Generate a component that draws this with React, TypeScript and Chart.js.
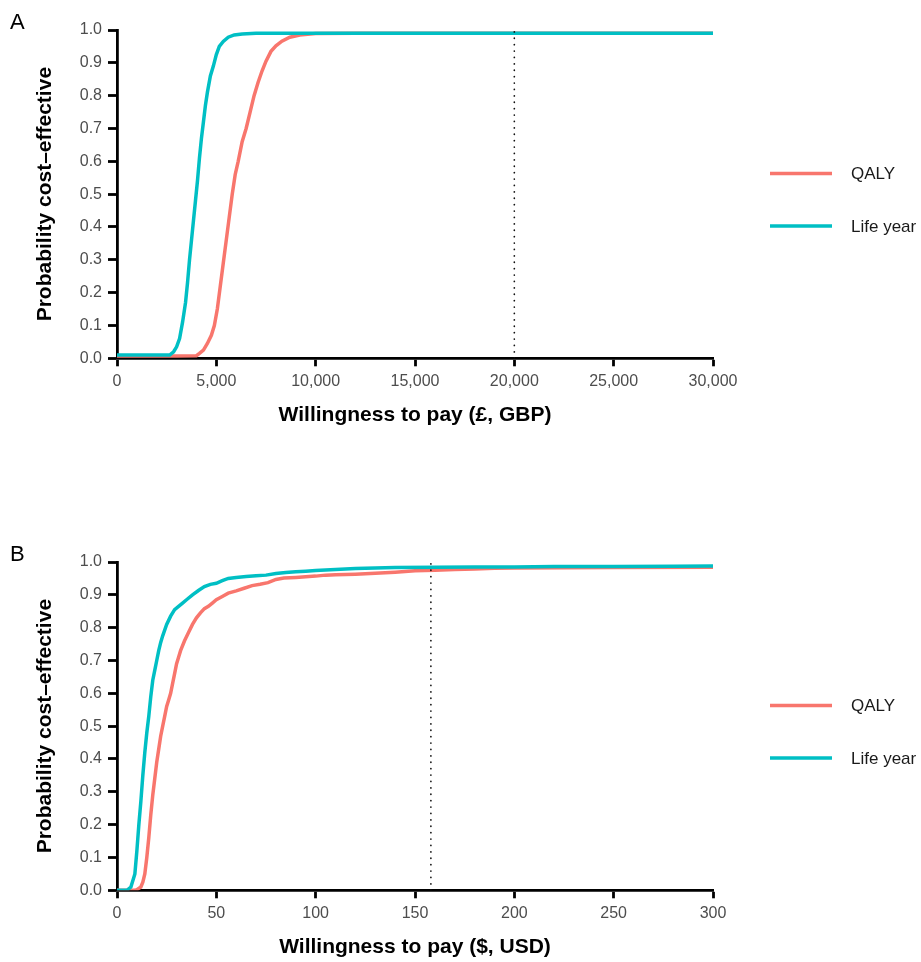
import React, { useEffect, useRef } from "react";
import { Chart, registerables } from "chart.js";

Chart.register(...registerables);

const FONT = '"Liberation Sans", Arial, Helvetica, sans-serif';

const seriesNames = ["QALY", "Life year"];
const seriesColors = ["#F8766D", "#00BFC4"];

const yTicksStep = 0.1;

// Panel A (GBP) – [willingness to pay, probability]
const gbpQaly: [number, number][] = [
  [0, 0.007], [2000, 0.007], [3000, 0.007], [4000, 0.008], [4150, 0.015], [4350, 0.025],
  [4550, 0.045], [4750, 0.07], [4900, 0.1], [5050, 0.15], [5200, 0.22], [5350, 0.29],
  [5500, 0.36], [5650, 0.43], [5800, 0.5], [5950, 0.56], [6100, 0.6], [6300, 0.66],
  [6500, 0.7], [6700, 0.75], [6900, 0.8], [7100, 0.84], [7300, 0.875], [7500, 0.905],
  [7750, 0.935], [8000, 0.952], [8300, 0.966], [8700, 0.978], [9200, 0.985],
  [10000, 0.989], [12000, 0.99], [20000, 0.99], [30000, 0.99],
];
const gbpLifeYear: [number, number][] = [
  [0, 0.01], [1000, 0.01], [2000, 0.01], [2650, 0.01], [2850, 0.02], [3000, 0.035],
  [3150, 0.06], [3300, 0.11], [3450, 0.17], [3550, 0.23], [3650, 0.3], [3750, 0.36],
  [3850, 0.42], [3950, 0.48], [4050, 0.54], [4150, 0.61], [4250, 0.67], [4350, 0.72],
  [4450, 0.77], [4550, 0.81], [4700, 0.86], [4850, 0.89], [5000, 0.925], [5150, 0.95],
  [5350, 0.965], [5600, 0.978], [5900, 0.985], [6300, 0.988], [7000, 0.99],
  [10000, 0.99], [20000, 0.99], [30000, 0.99],
];
const gbpThreshold = 20000;
const gbpXMax = 30000;
const gbpXStep = 5000;

// Panel B (USD)
const usdQaly: [number, number][] = [
  [0, 0], [9, 0], [10, 0.002], [12, 0.01], [13, 0.025], [14, 0.05], [15, 0.1], [16, 0.16],
  [17, 0.23], [18, 0.29], [19, 0.34], [20, 0.39], [21, 0.43], [22, 0.47], [23, 0.5],
  [24, 0.53], [25, 0.56], [26, 0.58], [27, 0.6], [28, 0.63], [29, 0.66], [30, 0.69],
  [31, 0.71], [32, 0.73], [34, 0.76], [36, 0.785], [38, 0.81], [40, 0.83], [42, 0.845],
  [44, 0.858], [46, 0.865], [48, 0.875], [50, 0.885], [53, 0.895], [56, 0.905], [60, 0.912],
  [64, 0.92], [68, 0.928], [72, 0.932], [76, 0.937], [80, 0.947], [84, 0.951], [90, 0.953],
  [95, 0.955], [100, 0.957], [105, 0.96], [110, 0.961], [120, 0.963], [130, 0.966],
  [140, 0.969], [150, 0.973], [160, 0.975], [170, 0.977], [180, 0.979], [190, 0.981],
  [200, 0.982], [250, 0.983], [300, 0.984],
];
const usdLifeYear: [number, number][] = [
  [0, 0], [5, 0], [7, 0.01], [9, 0.05], [10, 0.12], [11, 0.2], [12, 0.27], [13, 0.35],
  [14, 0.42], [15, 0.48], [16, 0.53], [17, 0.59], [18, 0.64], [19, 0.67], [20, 0.7],
  [21, 0.73], [22, 0.755], [23, 0.775], [25, 0.81], [27, 0.835], [29, 0.855], [31, 0.865],
  [33, 0.875], [35, 0.885], [38, 0.9], [41, 0.913], [44, 0.925], [47, 0.932], [50, 0.935],
  [53, 0.943], [56, 0.95], [60, 0.953], [65, 0.956], [70, 0.958], [75, 0.96], [80, 0.965],
  [85, 0.968], [90, 0.97], [95, 0.972], [100, 0.974], [110, 0.977], [120, 0.98],
  [130, 0.982], [140, 0.983], [160, 0.984], [180, 0.985], [200, 0.985], [220, 0.986],
  [250, 0.986], [280, 0.987], [300, 0.988],
];
const usdThreshold = 158;
const usdXMax = 300;
const usdXStep = 50;

const CANVAS_W = 921;
const CANVAS_H = 430;

type PanelProps = {
  letter: string;
  top: number;
  xTitle: string;
  xMax: number;
  xStep: number;
  threshold: number;
  qaly: [number, number][];
  lifeYear: [number, number][];
  commas: boolean;
};

function Panel(props: PanelProps) {
  const ref = useRef<HTMLCanvasElement | null>(null);
  useEffect(() => {
    if (!ref.current) return;
    const toPts = (arr: [number, number][]) => arr.map(([x, y]) => ({ x, y }));
    const decor = {
      id: "decor",
      afterDraw(chart: any) {
        const ctx = chart.ctx;
        ctx.save();
        ctx.fillStyle = "#000";
        ctx.font = `22px ${FONT}`;
        ctx.textBaseline = "alphabetic";
        ctx.textAlign = "left";
        ctx.fillText(props.letter, 10, 29);
        const legendY = [173.5, 226];
        seriesNames.forEach((name, i) => {
          const y = legendY[i];
          ctx.strokeStyle = seriesColors[i];
          ctx.lineWidth = 3.5;
          ctx.beginPath();
          ctx.moveTo(770, y);
          ctx.lineTo(832, y);
          ctx.stroke();
          ctx.fillStyle = "#1a1a1a";
          ctx.font = `17px ${FONT}`;
          ctx.textBaseline = "middle";
          ctx.fillText(name, 851, y + 1);
        });
        ctx.restore();
      },
    };
    const chart = new Chart(ref.current, {
      type: "line",
      data: {
        datasets: [
          {
            label: "threshold",
            data: [
              { x: props.threshold, y: 0 },
              { x: props.threshold, y: 1 },
            ],
            borderColor: "#111",
            borderWidth: 1.7,
            borderDash: [0.1, 6.3],
            borderCapStyle: "round",
            pointRadius: 0,
            order: -1,
          },
          {
            label: seriesNames[1],
            data: toPts(props.lifeYear),
            borderColor: seriesColors[1],
            borderWidth: 3.5,
            pointRadius: 0,
            tension: 0,
            order: 0,
          },
          {
            label: seriesNames[0],
            data: toPts(props.qaly),
            borderColor: seriesColors[0],
            borderWidth: 3.5,
            pointRadius: 0,
            tension: 0,
            order: 1,
          },
        ],
      },
      options: {
        animation: false,
        responsive: false,
        events: [],
        layout: { padding: { top: 30, right: 208, left: 0, bottom: 0 } },
        plugins: { legend: { display: false }, tooltip: { enabled: false } },
        scales: {
          x: {
            type: "linear",
            min: 0,
            max: props.xMax,
            ticks: {
              stepSize: props.xStep,
              color: "#4d4d4d",
              font: { size: 16, family: FONT },
              padding: 6,
              maxRotation: 0,
              autoSkip: false,
              callback: (v: any) =>
                props.commas ? Number(v).toLocaleString("en-US") : String(v),
            },
            grid: {
              drawOnChartArea: false,
              drawTicks: true,
              tickLength: 8,
              tickWidth: 2.8,
              tickColor: "#000",
            },
            border: { display: true, color: "#000", width: 2.8 },
            title: {
              display: true,
              text: props.xTitle,
              color: "#000",
              font: { size: 21, weight: "bold", family: FONT },
              padding: { top: 0, bottom: 2.5 },
            },
            afterFit: (s: any) => {
              s.height = 71.7;
            },
          },
          y: {
            type: "linear",
            min: 0,
            max: 1,
            ticks: {
              stepSize: yTicksStep,
              color: "#4d4d4d",
              font: { size: 16, family: FONT },
              padding: 6,
              autoSkip: false,
              callback: (v: any) => Number(v).toFixed(1),
            },
            grid: {
              drawOnChartArea: false,
              drawTicks: true,
              tickLength: 9,
              tickWidth: 2.8,
              tickColor: "#000",
            },
            border: { display: true, color: "#000", width: 2.8 },
            title: {
              display: true,
              text: "Probability cost\u2013effective",
              color: "#000",
              font: { size: 21, weight: "bold", family: FONT },
              padding: { top: 32.5, bottom: 0 },
            },
            afterFit: (s: any) => {
              s.width = 117;
            },
          },
        },
      } as any,
      plugins: [decor],
    });
    return () => chart.destroy();
  }, []);
  return (
    <canvas
      ref={ref}
      width={CANVAS_W}
      height={CANVAS_H}
      style={{ position: "absolute", left: 0, top: props.top, width: CANVAS_W, height: CANVAS_H }}
    />
  );
}

export default function App() {
  return (
    <div style={{ position: "absolute", left: 0, top: 0, width: 921, height: 962, background: "#fff" }}>
      <Panel
        letter="A"
        top={0}
        xTitle="Willingness to pay (£, GBP)"
        xMax={gbpXMax}
        xStep={gbpXStep}
        threshold={gbpThreshold}
        qaly={gbpQaly}
        lifeYear={gbpLifeYear}
        commas={true}
      />
      <Panel
        letter="B"
        top={532}
        xTitle="Willingness to pay ($, USD)"
        xMax={usdXMax}
        xStep={usdXStep}
        threshold={usdThreshold}
        qaly={usdQaly}
        lifeYear={usdLifeYear}
        commas={false}
      />
    </div>
  );
}
